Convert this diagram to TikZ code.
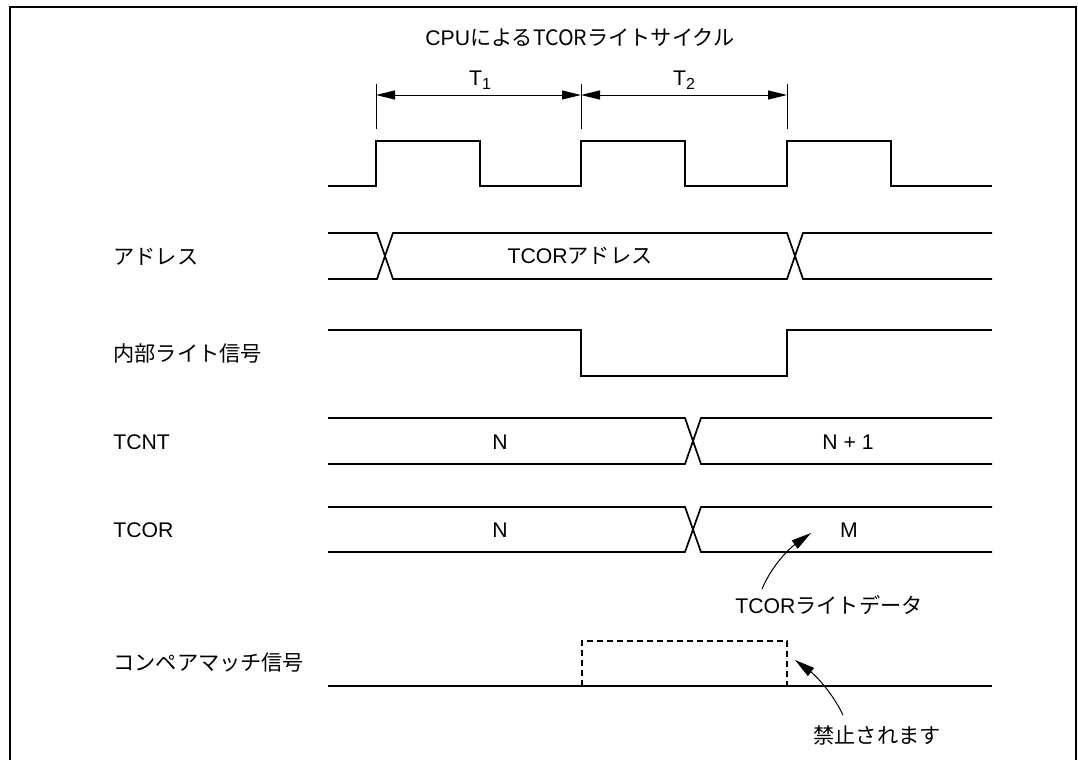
\documentclass[tikz,border=0pt]{standalone}
\usepackage{fontspec}
\setmainfont{Liberation Sans}
\newfontfamily\jpfont{Noto Sans CJK JP}
\usetikzlibrary{arrows.meta}

\begin{document}
\begin{tikzpicture}[
        x=0.5pt, y=-0.5pt,
        font=\fontsize{10.6}{12}\selectfont,
        wave/.style={line width=0.85pt, line join=miter},
        dim/.style={line width=0.5pt,
          {Triangle[length=9.5pt, width=4.5pt]}-{Triangle[length=9.5pt, width=4.5pt]}},
        note/.style={line width=0.5pt, -{Triangle[length=10pt, width=5pt]}},
        signame/.style={anchor=west, inner sep=0pt},
      ]
      \useasboundingbox (0,0) rectangle (1078,760);
      \draw[line width=0.6pt] (10,760) -- (10,7) -- (1076,7) -- (1076,760);

      % title and cycle marks
      \node (title) at (580,37) {CPU{\jpfont によるTCORライトサイクル}};
      \node (T1) at (480,80) {T{\raisebox{-0.35ex}{\fontsize{8}{9}\selectfont 1}}};
      \node (T2) at (684,80) {T{\raisebox{-0.35ex}{\fontsize{8}{9}\selectfont 2}}};
      \coordinate (c0) at (376,95);
      \coordinate (c1) at (581,95);
      \coordinate (c2) at (787,95);
      \foreach \c in {c0, c1, c2}
        \draw[line width=0.5pt] (\c) ++(0,-11) -- ++(0,45);
      \draw[dim] (c0) -- (c1);
      \draw[dim] (c1) -- (c2);

      % clock
      \draw[wave] (328,186)
        \foreach \t in {376, 581, 787} { -- (\t,186) -- (\t,141) -- (\t+104,141) -- (\t+104,186) }
        -- (992,186);

      % signal names
      \node[signame] (addr)  at (113,257) {\jpfont アドレス};
      \node[signame] (wr)    at (113,353) {\jpfont 内部ライト信号};
      \node[signame] (tcnt)  at (113,442) {TCNT};
      \node[signame] (tcor)  at (113,530) {TCOR};
      \node[signame] (cmp)   at (113,662) {\jpfont コンペアマッチ信号};

      % address bus
      \draw[wave] (328,233) -- (377,233) -- (393,279) -- (787,279) -- (803,233) -- (992,233);
      \draw[wave] (328,279) -- (377,279) -- (393,233) -- (787,233) -- (803,279) -- (992,279);
      \node (addrval) at (580,256) {TCOR{\jpfont アドレス}};

      % internal write
      \draw[wave] (328,330) -- (581,330) -- (581,376) -- (787,376) -- (787,330) -- (992,330);

      % TCNT
      \draw[wave] (328,418) -- (685,418) -- (701,464) -- (992,464);
      \draw[wave] (328,464) -- (685,464) -- (701,418) -- (992,418);
      \node (tcntN)  at (500,442) {N};
      \node (tcntN1) at (848,442) {N + 1};

      % TCOR
      \draw[wave] (328,507) -- (685,507) -- (701,552) -- (992,552);
      \draw[wave] (328,552) -- (685,552) -- (701,507) -- (992,507);
      \node (tcorN) at (500,530) {N};
      \node (tcorM) at (849,530) {M};

      % compare match
      \draw[wave] (328,686) -- (992,686);
      \draw[line width=0.6pt, dash pattern=on 3pt off 2pt]
        (582,686) -- (582,641) -- (787,641) -- (787,686);

      % notes
      \node (wdata) at (829,605) {TCOR{\jpfont ライトデータ}};
      \coordinate (wfrom) at (762,589);
      \coordinate (wtip) at (811,533);
      \draw[note] (wfrom) .. controls (772,565) and (790,548) .. (wtip);

      \node (ban) at (877,735) {\jpfont 禁止されます};
      \coordinate (bfrom) at (843,715);
      \coordinate (btip) at (795,660);
      \draw[note] (bfrom) .. controls (832,692) and (815,675) .. (btip);
    \end{tikzpicture}
\end{document}
